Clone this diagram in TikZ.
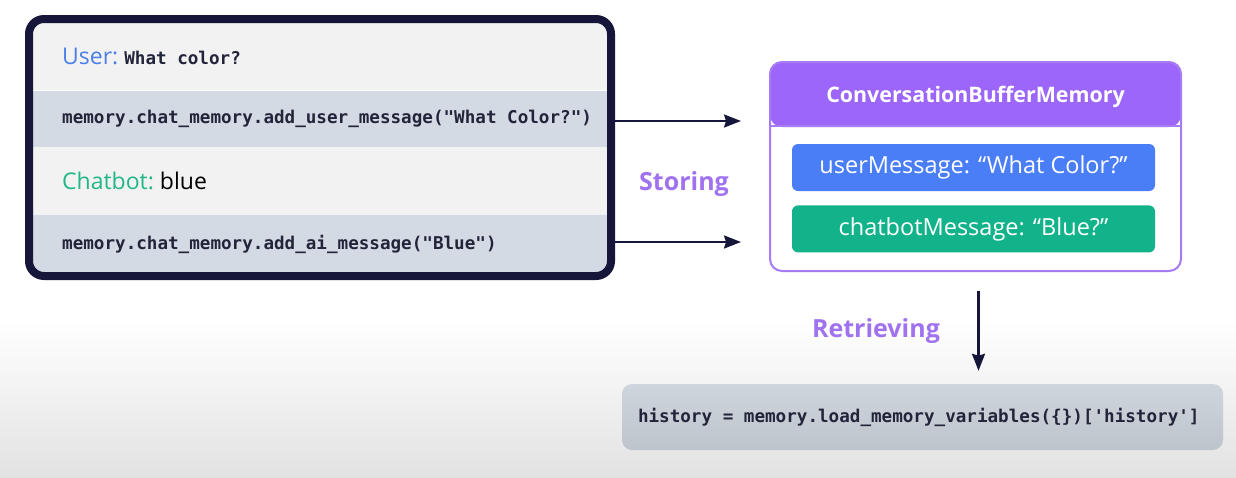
\documentclass[tikz,border=0pt]{standalone}
\usepackage{fontspec}
\setmainfont{Open Sans}
\setmonofont{DejaVu Sans Mono}
\usepackage{tikz}
\usetikzlibrary{positioning}
\usetikzlibrary{arrows.meta}
\definecolor{framenavy}{HTML}{16163A}
\definecolor{rowlight}{HTML}{F2F2F2}
\definecolor{rowcode}{HTML}{D3DAE3}
\definecolor{userblue}{HTML}{4A7FE6}
\definecolor{botgreen}{HTML}{22B689}
\definecolor{labelpurple}{HTML}{A072F0}
\definecolor{headpurple}{HTML}{9C66FA}
\definecolor{edgepurple}{HTML}{A77BF5}
\definecolor{msgblue}{HTML}{4A7EF7}
\definecolor{msggreen}{HTML}{12B38A}
\definecolor{histtop}{HTML}{CFD5DD}
\definecolor{histbot}{HTML}{BDC4CC}
\definecolor{bggrey}{HTML}{E2E2E2}
\definecolor{codeink}{HTML}{22243A}
% a full-width space for the code lines
\newcommand{\tsp}{\hspace*{0.602em}}
\tikzset {
  x=1pt, y=-1pt,
  % rows of the chat panel
  row/.style = {minimum width=574pt, inner xsep=29pt, inner ysep=0pt,
    text width=516pt, align=left, anchor=north west},
  talk/.style = {row, fill=rowlight, font=\fontsize{23}{26}\selectfont},
  code/.style = {row, fill=rowcode, text=codeink, font=\ttfamily\bfseries\fontsize{17.6}{20}\selectfont},
  % memory store
  store/.style={draw=edgepurple, line width=2pt, rounded corners=12pt,
    minimum width=411pt, minimum height=209pt, fill=white},
  msg/.style={rounded corners=6pt, minimum width=363pt, minimum height=47pt,
    text=white, font=\fontsize{23.5}{26}\selectfont},
  % arrows and their captions
  flow/.style={draw=framenavy, line width=2.2pt, -{Stealth[length=17pt,width=13pt,inset=2pt]}},
  step label/.style={text=labelpurple, font=\bfseries\fontsize{25}{28}\selectfont},
}

\begin{document}
\begin{tikzpicture}
        \useasboundingbox (0,0) rectangle (1236,477);
        % background
        \fill[white] (0,0) rectangle (1236,477);
        \shade[top color=white, bottom color=bggrey] (0,320) rectangle (1236,477);

        % chat panel
        \node[talk, minimum height=67pt] (r1) at (33,23)
          {\textcolor{userblue}{User:}\hspace{6pt}{\ttfamily\bfseries\color{codeink}\fontsize{17.6}{20}\selectfont What\tsp color?}};
        \node[code, minimum height=56pt] (r2) [below=0pt of r1.south west, anchor=north west]
          {\mbox{memory.chat\_memory.add\_user\_message("What\tsp Color?")}};
        \node[talk, minimum height=68pt] (r3) [below=0pt of r2.south west, anchor=north west]
          {\textcolor{botgreen}{Chatbot:}\hspace{6pt}blue};
        \node[code, minimum height=58pt] (r4) [below=0pt of r3.south west, anchor=north west]
          {\mbox{memory.chat\_memory.add\_ai\_message("Blue")}};
        \draw[framenavy, line width=8pt, rounded corners=15pt] (29,19) rectangle (611,276);

        % memory store
        \node[store, path picture={\fill[headpurple] (path picture bounding box.north west)
          rectangle ([yshift=-65pt]path picture bounding box.north east);}] (mem) at (975.5,166.5) {};
        \draw[edgepurple, line width=2pt] ([yshift=-65pt]mem.north west) -- ([yshift=-65pt]mem.north east);
        \node[text=white, font=\bfseries\fontsize{21.4}{24}\selectfont] (title) at (975.5,97) {ConversationBufferMemory};
        \node[msg, fill=msgblue] (umsg) at (973.5,167.5) {userMessage: “What Color?”};
        \node[msg, fill=msggreen] (cmsg) [below=14pt of umsg] {chatbotMessage: “Blue?”};

        % history lookup
        \node[rounded corners=10pt, top color=histtop, bottom color=histbot,
          minimum width=601pt, minimum height=66pt, inner xsep=16pt, text width=569pt,
          align=left, text=codeink, font=\ttfamily\bfseries\fontsize{17.6}{20}\selectfont] (hist) at (922.5,417)
          {\mbox{history\tsp=\tsp memory.load\_memory\_variables(\{\})['history']}};

        \coordinate (in1) at (741,121);
        \coordinate (in2) at (741,242);
        \draw[flow] (r2.east |- in1) -- (in1);
        \draw[flow] (r4.east |- in2) -- (in2);
        \draw[flow, shorten <=19pt, shorten >=13pt] ([xshift=3pt]mem.south) -- ([xshift=3pt]mem.south |- hist.north);

        \node[step label] (storing) at (684,184) {Storing};
        \node[step label] (retrieving) at (876,331) {Retrieving};
      \end{tikzpicture}
\end{document}
